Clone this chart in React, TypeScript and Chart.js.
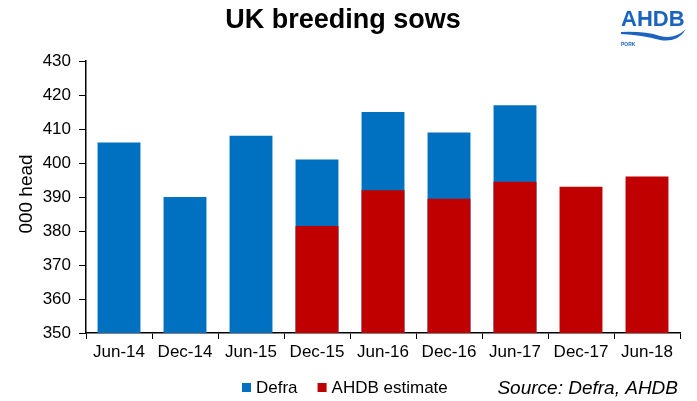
import React, { useEffect, useRef } from "react";
import { Chart, registerables } from "chart.js";

Chart.register(...registerables);

const categories = ["Jun-14", "Dec-14", "Jun-15", "Dec-15", "Jun-16", "Dec-16", "Jun-17", "Dec-17", "Jun-18"];
const defraValues = [406, 390, 408, 401, 415, 409, 417, null, null];
const ahdbValues = [null, null, null, 381.5, 392, 389.5, 394.5, 393, 396];
const yTicks = [350, 360, 370, 380, 390, 400, 410, 420, 430];
const titleText = "UK breeding sows";
const sourceText = "Source: Defra, AHDB";
const yAxisTitle = "000 head";

const BLUE = "#0070C0";
const RED = "#C00000";
const FONT = "'Liberation Sans', Arial, sans-serif";

const decorPlugin = {
  id: "decor",
  afterDraw(chart: any) {
    const ctx = chart.ctx as CanvasRenderingContext2D;
    ctx.save();
    // Title
    ctx.fillStyle = "#000";
    ctx.font = `bold 27px ${FONT}`;
    ctx.textAlign = "center";
    ctx.textBaseline = "middle";
    ctx.fillText(titleText, 343, 21);

    // Logo
    ctx.fillStyle = "#1a64c0";
    ctx.font = `bold 22px ${FONT}`;
    ctx.textAlign = "left";
    ctx.textBaseline = "alphabetic";
    ctx.fillText("AHDB", 621, 26);
    ctx.beginPath();
    ctx.moveTo(621, 32);
    ctx.quadraticCurveTo(645, 31, 660, 36);
    ctx.quadraticCurveTo(674, 40, 686, 29);
    ctx.quadraticCurveTo(678, 43, 660, 40);
    ctx.quadraticCurveTo(642, 35, 621, 34);
    ctx.closePath();
    ctx.fill();
    ctx.font = `bold 5px ${FONT}`;
    ctx.fillText("PORK", 621, 46);

    // Legend
    const ds = chart.data.datasets;
    ctx.font = `17px ${FONT}`;
    ctx.textBaseline = "middle";
    let x = 242;
    const y = 388;
    for (const i of [0, 1]) {
      ctx.fillStyle = ds[i].backgroundColor;
      ctx.fillRect(x, y - 5, 9, 9);
      ctx.fillStyle = "#000";
      ctx.fillText(ds[i].label, x + 14, y);
      x += 14 + ctx.measureText(ds[i].label).width + 20;
    }

    // Source
    ctx.font = `italic 19px ${FONT}`;
    ctx.textAlign = "right";
    ctx.fillText(sourceText, 678, 389);

    // Y axis title
    ctx.translate(27, 194);
    ctx.rotate(-Math.PI / 2);
    ctx.textAlign = "center";
    ctx.font = `19px ${FONT}`;
    ctx.fillText(yAxisTitle, 0, 0);
    ctx.restore();
  },
};

export default function App() {
  const ref = useRef<HTMLCanvasElement>(null);
  useEffect(() => {
    const chart = new Chart(ref.current!, {
      type: "bar",
      data: {
        labels: categories,
        datasets: [
          {
            label: "Defra",
            data: defraValues as any,
            backgroundColor: BLUE,
            grouped: false,
            order: 1,
            barPercentage: 0.65,
            categoryPercentage: 1,
          } as any,
          {
            label: "AHDB estimate",
            data: ahdbValues as any,
            backgroundColor: RED,
            grouped: false,
            order: 0,
            barPercentage: 0.65,
            categoryPercentage: 1,
          } as any,
        ],
      },
      options: {
        animation: false,
        responsive: false,
        maintainAspectRatio: false,
        layout: { padding: { top: 61, right: 17, left: 0, bottom: 0 } },
        plugins: {
          legend: { display: false },
          title: { display: false },
          tooltip: { enabled: false },
        },
        scales: {
          x: {
            grid: {
              display: true,
              drawOnChartArea: false,
              drawTicks: true,
              tickLength: 6,
              color: "#000",
              offset: true,
            },
            border: { display: true, color: "#000", width: 1.5 },
            ticks: {
              color: "#000",
              font: { family: FONT, size: 17 },
              padding: 3,
              maxRotation: 0,
              autoSkip: false,
            },
            afterFit(scale: any) {
              scale.height = 68;
            },
          },
          y: {
            min: 350,
            max: 430,
            afterBuildTicks(scale: any) {
              scale.ticks = yTicks.map((v) => ({ value: v }));
            },
            grid: {
              display: true,
              drawOnChartArea: false,
              drawTicks: true,
              tickLength: 7,
              color: "#000",
            },
            border: { display: true, color: "#000", width: 1.5 },
            ticks: {
              color: "#000",
              font: { family: FONT, size: 17 },
              padding: 8,
            },
            afterFit(scale: any) {
              scale.width = 86;
            },
          },
        },
      },
      plugins: [decorPlugin],
    } as any);
    return () => chart.destroy();
  }, []);
  return (
    <div style={{ position: "fixed", left: 0, top: 0, width: 697, height: 401, background: "#fff" }}>
      <canvas ref={ref} width={697} height={401} style={{ width: 697, height: 401 }} />
    </div>
  );
}
